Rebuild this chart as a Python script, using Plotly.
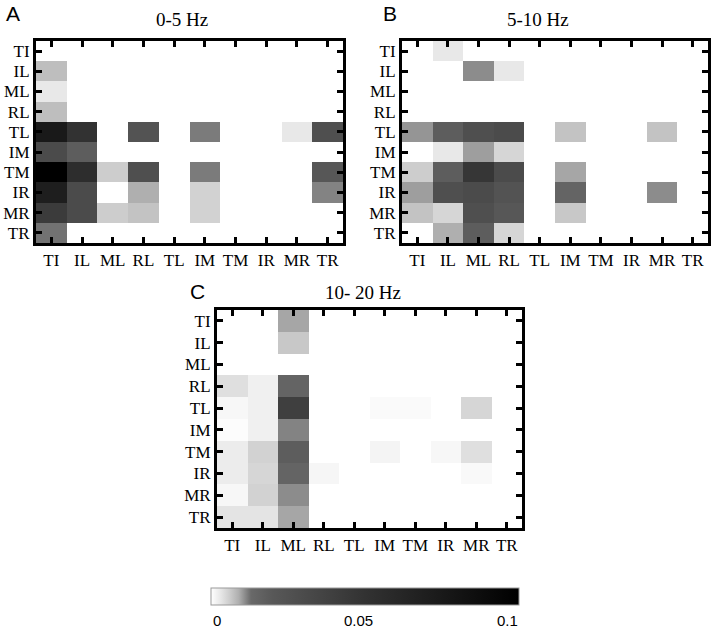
import plotly.graph_objects as go

W, H = 713, 630

labels = ["TI", "IL", "ML", "RL", "TL", "IM", "TM", "IR", "MR", "TR"]

# rows = y labels (top to bottom), columns = x labels
band_0_5 = [
    [0, 0, 0, 0, 0, 0, 0, 0, 0, 0],
    [0.0075, 0, 0, 0, 0, 0, 0, 0, 0, 0],
    [0.003, 0, 0, 0, 0, 0, 0, 0, 0, 0],
    [0.0075, 0, 0, 0, 0, 0, 0, 0, 0, 0],
    [0.075, 0.05, 0, 0.024, 0, 0.012, 0, 0, 0.003, 0.027],
    [0.03, 0.018, 0, 0, 0, 0, 0, 0, 0, 0],
    [0.1, 0.055, 0.006, 0.027, 0, 0.012, 0, 0, 0, 0.021],
    [0.07, 0.03, 0, 0.009, 0, 0.0055, 0, 0, 0, 0.0115],
    [0.043, 0.03, 0.006, 0.007, 0, 0.0055, 0, 0, 0, 0],
    [0.0125, 0, 0, 0, 0, 0, 0, 0, 0, 0],
]

band_5_10 = [
    [0, 0.003, 0, 0, 0, 0, 0, 0, 0, 0],
    [0, 0, 0.011, 0.003, 0, 0, 0, 0, 0, 0],
    [0, 0, 0, 0, 0, 0, 0, 0, 0, 0],
    [0, 0, 0, 0, 0, 0, 0, 0, 0, 0],
    [0.0105, 0.018, 0.027, 0.03, 0, 0.007, 0, 0, 0.007, 0],
    [0, 0.003, 0.010, 0.005, 0, 0, 0, 0, 0, 0],
    [0.006, 0.018, 0.047, 0.03, 0, 0.0095, 0, 0, 0, 0],
    [0.010, 0.027, 0.03, 0.024, 0, 0.015, 0, 0, 0.011, 0],
    [0.007, 0.005, 0.027, 0.021, 0, 0.0065, 0, 0, 0, 0],
    [0, 0.009, 0.018, 0.005, 0, 0, 0, 0, 0, 0],
]

band_10_20 = [
    [0, 0, 0.0095, 0, 0, 0, 0, 0, 0, 0],
    [0, 0, 0.0065, 0, 0, 0, 0, 0, 0, 0],
    [0, 0, 0, 0, 0, 0, 0, 0, 0, 0],
    [0.004, 0.002, 0.015, 0, 0, 0, 0, 0, 0, 0],
    [0.001, 0.002, 0.04, 0, 0, 0.0007, 0.0007, 0, 0.005, 0],
    [0.0004, 0.002, 0.0115, 0, 0, 0, 0, 0, 0, 0],
    [0.0025, 0.0055, 0.018, 0, 0, 0.0015, 0, 0.001, 0.004, 0],
    [0.0025, 0.005, 0.015, 0.0012, 0, 0, 0, 0, 0.0008, 0],
    [0.001, 0.0055, 0.011, 0, 0, 0, 0, 0, 0, 0],
    [0.0035, 0.0035, 0.0095, 0, 0, 0, 0, 0, 0, 0],
]

cbar_ticks = [0, 0.05, 0.1]
cbar_ticktext = ["0", "0.05", "0.1"]

# grey scale: fast drop from white, then slow towards black
grey_scale = [
    [0.0, "rgb(255,255,255)"],
    [0.03, "rgb(232,232,232)"],
    [0.06, "rgb(205,205,205)"],
    [0.09, "rgb(175,175,175)"],
    [0.11, "rgb(140,140,140)"],
    [0.13, "rgb(105,105,105)"],
    [0.2, "rgb(88,88,88)"],
    [0.5, "rgb(50,50,50)"],
    [1.0, "rgb(0,0,0)"],
]

def px_x(x):
    return x / W

def px_y(y):
    return 1 - y / H

# plot boxes in pixels: (left, right, top, bottom)
panels = [
    (band_0_5, (36, 343, 41, 243), "x", "y"),
    (band_5_10, (402, 708, 41, 243), "x2", "y2"),
    (band_10_20, (217, 522, 310, 528), "x3", "y3"),
]

serif = "Liberation Serif, Times New Roman, serif"
sans = "Liberation Sans, Arial, sans-serif"

fig = go.Figure()
layout = {}
for i, (z, box, xa, ya) in enumerate(panels):
    fig.add_trace(go.Heatmap(z=z, x=labels, y=labels, coloraxis="coloraxis",
                             xaxis=xa, yaxis=ya, showscale=False))
    left, right, top, bottom = box
    suffix = "" if i == 0 else str(i + 1)
    axis_common = dict(showline=True, linecolor="black", linewidth=3, mirror="ticks",
                       ticks="inside", ticklen=6, tickwidth=3, tickcolor="black",
                       showgrid=False, zeroline=False, fixedrange=True,
                       tickfont=dict(family=serif, size=17, color="black"))
    layout["xaxis" + suffix] = dict(axis_common, domain=[px_x(left), px_x(right)],
                                    anchor="y" + suffix, range=[-0.5, 9.5])
    layout["yaxis" + suffix] = dict(axis_common, domain=[px_y(bottom), px_y(top)],
                                    anchor="x" + suffix, range=[9.5, -0.5])

fig.update_layout(**layout)

fig.update_layout(
    width=W, height=H,
    margin=dict(l=0, r=0, t=0, b=0),
    paper_bgcolor="white", plot_bgcolor="white",
    coloraxis=dict(
        colorscale=grey_scale, cmin=0, cmax=0.1,
        colorbar=dict(orientation="h", x=px_x(365), xanchor="center",
                      y=px_y(597), yanchor="middle",
                      lenmode="pixels", len=308, thickness=17,
                      outlinecolor="#999999", outlinewidth=1,
                      tickvals=cbar_ticks, showticklabels=False,
                      ticks="", xpad=0, ypad=0),
    ),
)

# colour bar labels sit inside the bar ends
cbar_label_pos = [(211, "left"), (358, "center"), (520, "right")]
for text, (x, anchor) in zip(cbar_ticktext, cbar_label_pos):
    fig.add_annotation(text=text, x=px_x(x), y=px_y(620), xref="paper", yref="paper",
                       showarrow=False, xanchor=anchor, yanchor="middle",
                       font=dict(family=sans, size=15, color="black"))

# titles and panel letters
titles = [("0-5 Hz", 182, 19), ("5-10 Hz", 538, 19), ("10- 20 Hz", 363, 292)]
for text, x, y in titles:
    fig.add_annotation(text=text, x=px_x(x), y=px_y(y), xref="paper", yref="paper",
                       showarrow=False, xanchor="center", yanchor="middle",
                       font=dict(family=serif, size=19, color="black"))

letters = [("A", 13, 13), ("B", 390, 13), ("C", 197, 291)]
for text, x, y in letters:
    fig.add_annotation(text=text, x=px_x(x), y=px_y(y), xref="paper", yref="paper",
                       showarrow=False, xanchor="center", yanchor="middle",
                       font=dict(family=sans, size=21, color="black"))

# drop the browser's default page margin so the figure fills the window
fig.write_html("out.html", config={"displayModeBar": False},
               post_script="document.body.style.margin='0';")
